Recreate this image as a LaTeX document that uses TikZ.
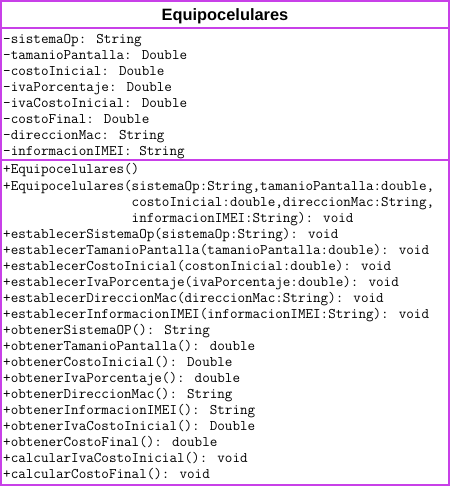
\documentclass[tikz,border=0pt]{standalone}
\usepackage{fontspec}
\setmainfont{Liberation Sans}
\usepackage{xcolor}
\usepackage{tikz}
\usetikzlibrary{positioning}
\definecolor{umlborder}{RGB}{200, 64, 232}

\begin{document}
\begin{tikzpicture}[x=1pt, y=-1pt,
    member/.style={anchor=base west, inner sep=0pt, font=\fontsize{14.68}{16}\ttfamily},
    classname/.style={anchor=base, inner sep=0pt, font=\fontsize{16.4}{20}\bfseries}]
    \useasboundingbox (0,0) rectangle (450,486);

    % Class box
    \draw[umlborder, line width=2pt] (1,1) rectangle (449,485);
    \coordinate (sepA-l) at (1,28.5);
    \coordinate (sepA-r) at (449,28.5);
    \coordinate (sepB-l) at (1,160);
    \coordinate (sepB-r) at (449,160);
    \draw[umlborder, line width=2pt] (sepA-l) -- (sepA-r);
    \draw[umlborder, line width=2pt] (sepB-l) -- (sepB-r);

    % Class name
    \node[classname] (title) at (225,21) {Equipocelulares};

    % Attributes
    \node[member] (attr1) at (3,44) {-sistemaOp: String};
    \node[member] (attr2) at (3,60) {-tamanioPantalla: Double};
    \node[member] (attr3) at (3,76) {-costoInicial: Double};
    \node[member] (attr4) at (3,92) {-ivaPorcentaje: Double};
    \node[member] (attr5) at (3,108) {-ivaCostoInicial: Double};
    \node[member] (attr6) at (3,124) {-costoFinal: Double};
    \node[member] (attr7) at (3,140) {-direccionMac: String};
    \node[member] (attr8) at (3,156) {-informacionIMEI: String};

    % Methods
    \node[member] (op1) at (3,174) {+Equipocelulares()};
    \node[member] (op2) at (3,190) {+Equipocelulares(sistemaOp:String,tamanioPantalla:double,};
    \node[member] (op2b) at (3,206) {\phantom{+Equipocelulares(}costoInicial:double,direccionMac:String,};
    \node[member] (op2c) at (3,222) {\phantom{+Equipocelulares(}informacionIMEI:String): void};
    \node[member] (op3) at (3,238) {+establecerSistemaOp(sistemaOp:String): void};
    \node[member] (op4) at (3,254) {+establecerTamanioPantalla(tamanioPantalla:double): void};
    \node[member] (op5) at (3,270) {+establecerCostoInicial(costonInicial:double): void};
    \node[member] (op6) at (3,286) {+establecerIvaPorcentaje(ivaPorcentaje:double): void};
    \node[member] (op7) at (3,302) {+establecerDireccionMac(direccionMac:String): void};
    \node[member] (op8) at (3,318) {+establecerInformacionIMEI(informacionIMEI:String): void};
    \node[member] (op9) at (3,334) {+obtenerSistemaOP(): String};
    \node[member] (op10) at (3,350) {+obtenerTamanioPantalla(): double};
    \node[member] (op11) at (3,366) {+obtenerCostoInicial(): Double};
    \node[member] (op12) at (3,382) {+obtenerIvaPorcentaje(): double};
    \node[member] (op13) at (3,398) {+obtenerDireccionMac(): String};
    \node[member] (op14) at (3,414) {+obtenerInformacionIMEI(): String};
    \node[member] (op15) at (3,430) {+obtenerIvaCostoInicial(): Double};
    \node[member] (op16) at (3,446) {+obtenerCostoFinal(): double};
    \node[member] (op17) at (3,462) {+calcularIvaCostoInicial(): void};
    \node[member] (op18) at (3,478) {+calcularCostoFinal(): void};
\end{tikzpicture}
\end{document}
